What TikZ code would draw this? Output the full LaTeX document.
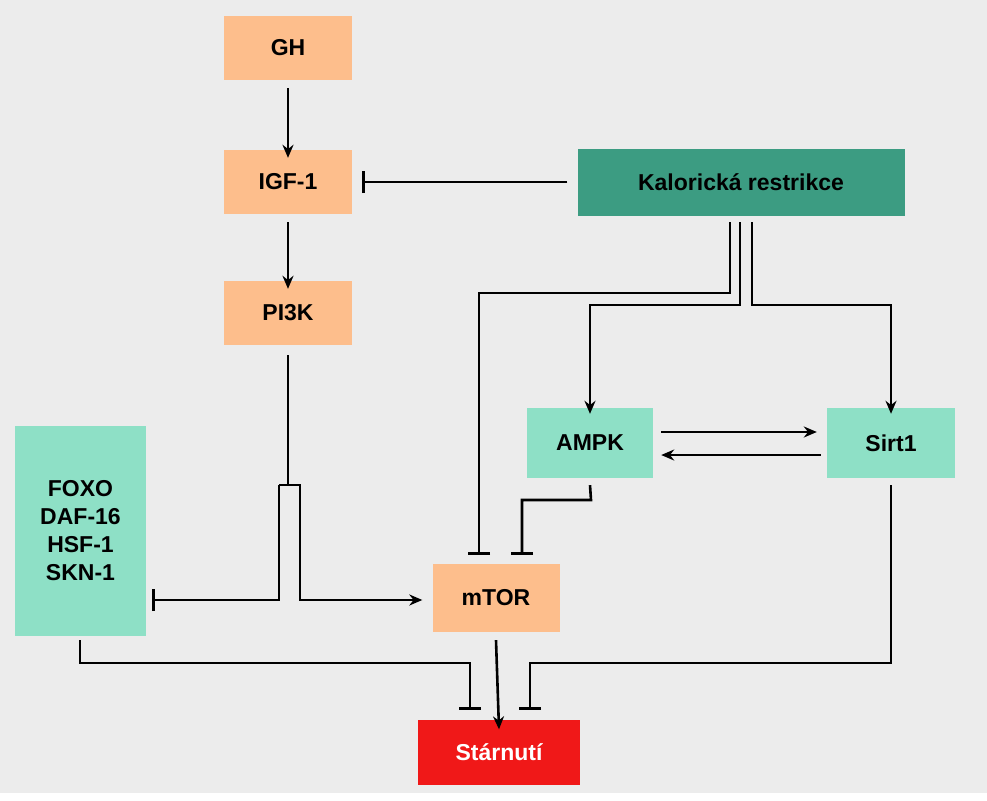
\documentclass[tikz,border=0pt]{standalone}
\usepackage{fontspec}
\setmainfont{Liberation Sans}
\usetikzlibrary{arrows.meta}
\definecolor{bg}{HTML}{ECECEC}
\definecolor{orng}{HTML}{FDBE8C}
\definecolor{mint}{HTML}{8EE0C6}
\definecolor{dteal}{HTML}{3C9C82}
\definecolor{redbox}{HTML}{F01818}
\begin{document}
\begin{tikzpicture}[x=1pt,y=-1pt,
  box/.style={inner sep=0pt,font=\fontsize{23}{28}\selectfont\bfseries},
  ln/.style={line width=2.6pt},
  act/.style={ln,-{Stealth[length=13pt,width=11pt]}},
  inh/.style={ln,-{Bar[width=22pt,line width=3pt]}}]
\fill[white] (0,0) rectangle (987,800);
\fill[bg] (0,0) rectangle (987,793);
\useasboundingbox (0,0) rectangle (987,800);
\node[box,fill=orng,minimum width=128pt,minimum height=64pt] (gh) at (288,48) {GH};
\node[box,fill=orng,minimum width=128pt,minimum height=64pt] (igf) at (288,182) {IGF-1};
\node[box,fill=orng,minimum width=128pt,minimum height=64pt] (pi3k) at (288,313) {PI3K};
\node[box,fill=dteal,minimum width=327pt,minimum height=67pt] (kr) at (741,182) {Kalorická restrikce};
\node[box,fill=mint,minimum width=126pt,minimum height=70pt] (ampk) at (590,443) {AMPK};
\node[box,fill=mint,minimum width=128pt,minimum height=70pt] (sirt) at (891,443) {Sirt1};
\node[box,fill=mint,minimum width=131pt,minimum height=210pt,align=center] (foxo) at (80.5,531) {FOXO\\DAF-16\\HSF-1\\SKN-1};
\node[box,fill=orng,minimum width=127pt,minimum height=68pt] (mtor) at (496,598) {mTOR};
\node[box,fill=redbox,text=white,minimum width=162pt,minimum height=65pt] (st) at (499,752) {Stárnutí};
\coordinate (kr1) at (730,222);
\coordinate (kr2) at (740,222);
\coordinate (kr3) at (752,222);
\draw[act] (gh.south)++(0,8) -- ([yshift=-8pt]igf.north);
\draw[act] (igf.south)++(0,8) -- ([yshift=-8pt]pi3k.north);
\draw[inh] ([xshift=-10pt]kr.west) -- ([xshift=10pt]igf.east);
\draw[inh] (kr1) -- (730,293) -- (479,293) -- (479,555);
\draw[act] (kr2) -- (740,305) -- (590,305) -- ([yshift=-6pt]ampk.north);
\draw[act] (kr3) -- (752,305) -- (891,305) -- ([yshift=-6pt]sirt.north);
\draw[act] ([xshift=8pt]ampk.east|-0,432) -- ([xshift=-10pt]sirt.west|-0,432);
\draw[act] ([xshift=-6pt]sirt.west|-0,455) -- ([xshift=8pt]ampk.east|-0,455);
\draw[inh] ([yshift=-7pt]ampk.south) -- (591,500) -- (522,500) -- (522,555);
\draw[ln] ([yshift=-10pt]pi3k.south) -- (288,485);
\draw[inh] (279,485) -- (279,600) -- ([xshift=6pt]foxo.east|-0,600);
\draw[act] (279,485) -- (300,485) -- (300,600) -- ([xshift=-10pt]mtor.west|-0,600);
\draw[inh] (80,640) -- (80,663) -- (470,663) -- (470,710);
\draw[act] ([yshift=-8pt]mtor.south) -- ([yshift=-10pt]st.north);
\draw[inh] ([yshift=-7pt]sirt.south) -- (891,663) -- (530,663) -- (530,710);
\end{tikzpicture}
\end{document}
